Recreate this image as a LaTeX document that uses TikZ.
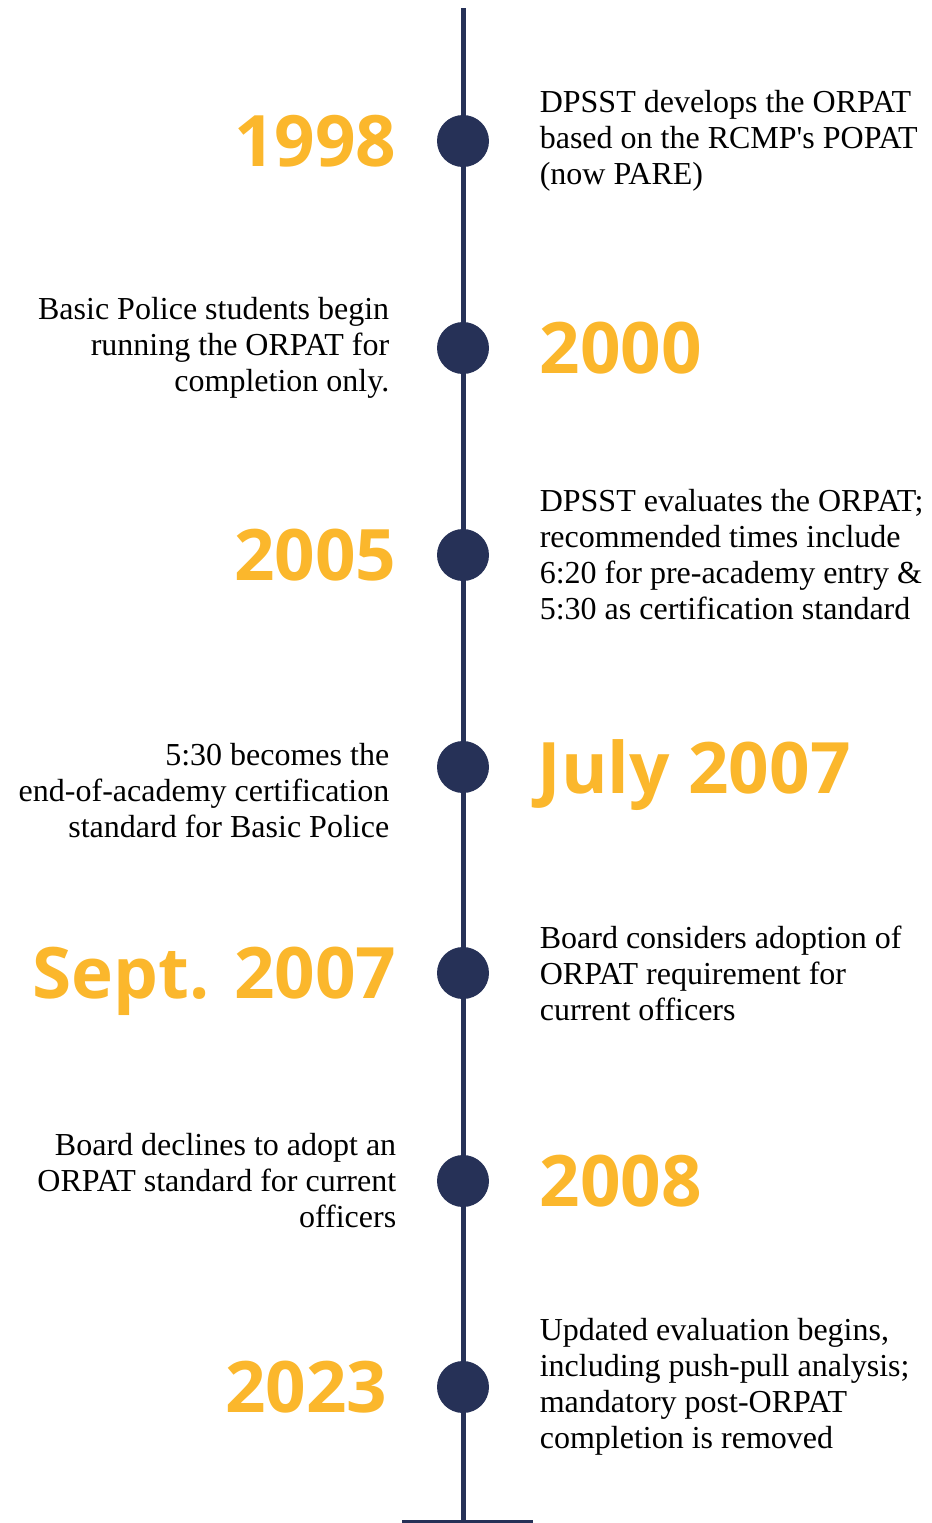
\documentclass[tikz,border=0pt]{standalone}
\usepackage{fontspec}
\setmainfont{Liberation Serif}
\newfontfamily\yearfont{Open Sans}
\usetikzlibrary{positioning}
\definecolor{navy}{HTML}{263157}
\definecolor{gold}{HTML}{FBB72C}

\begin{document}
\begin{tikzpicture}[x=0.5pt, y=-0.5pt,
dot/.style={circle, fill=navy, minimum size=26pt, inner sep=0pt},
year/.style={font=\yearfont\bfseries\fontsize{35.5}{40}\selectfont, text=gold, inner sep=0pt, text depth=0pt},
note/.style={font=\fontsize{16}{18}\selectfont, inner sep=0pt},
lnote/.style={note, align=right},
rnote/.style={note, align=left}]
 \useasboundingbox (0,0) rectangle (932,1523);

 % the spine and its foot
 \coordinate (top) at (463,8);
 \coordinate (bottom) at (463,1523);
 \coordinate (footL) at (402,1521);
 \coordinate (footR) at (533,1521);
 \draw[navy, line width=2.5pt] (top) -- (bottom);
 \draw[navy, line width=1.5pt] (footL) -- (footR);

 % milestones
 \node[dot] (d1998) at (463,141) {};
 \node[dot] (d2000) at (463,348) {};
 \node[dot] (d2005) at (463,555) {};
 \node[dot] (d2007a) at (463,767) {};
 \node[dot] (d2007b) at (463,973) {};
 \node[dot] (d2008) at (463,1181) {};
 \node[dot] (d2023) at (463,1387) {};

 \node[year, left=20pt of d1998] (y1998) {1998};
 \node[rnote, right=25pt of d1998] (t1998) {DPSST develops the ORPAT\\based on the RCMP\textquotesingle s POPAT\\(now PARE)};

 \node[year, right=25pt of d2000] (y2000) {2000};
 \node[lnote, left=23.5pt of d2000] (t2000) {Basic Police students begin\\running the ORPAT for\\completion only.};

 \node[year, left=20pt of d2005] (y2005) {2005};
 \node[rnote, right=25pt of d2005] (t2005) {DPSST evaluates the ORPAT;\\recommended times include\\6:20 for pre-academy entry \&\\5:30 as certification standard};

 \node[year, right=24pt of d2007a] (y2007a) {July 2007};
 \node[lnote, left=23.5pt of d2007a, yshift=-12pt] (t2007a) {5:30 becomes the\\end-of-academy certification\\standard for Basic Police};

 \node[year, left=20pt of d2007b] (y2007b) {Sept. 2007};
 \node[rnote, right=25pt of d2007b] (t2007b) {Board considers adoption of\\ORPAT requirement for\\current officers};

 \node[year, right=25pt of d2008] (y2008) {2008};
 \node[lnote, left=20pt of d2008] (t2008) {Board declines to adopt an\\ORPAT standard for current\\officers};

 \node[year, left=24.5pt of d2023] (y2023) {2023};
 \node[rnote, right=25pt of d2023] (t2023) {Updated evaluation begins,\\including push-pull analysis;\\mandatory post-ORPAT\\completion is removed};
\end{tikzpicture}
\end{document}
